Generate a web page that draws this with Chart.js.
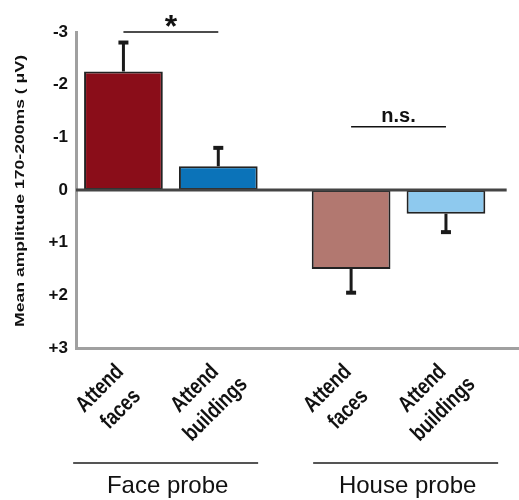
<!DOCTYPE html>
<html lang="en">
<head>
  <meta charset="UTF-8">
  <title>Mean amplitude</title>
  <script src="https://cdn.jsdelivr.net/npm/chart.js@4.4.1/dist/chart.umd.min.js"></script>
  <style>
    html, body { margin: 0; padding: 0; background: #fff; }
    #wrap { width: 519px; height: 500px; }
  </style>
</head>
<body>
  <div id="wrap"><canvas id="chart" width="519" height="500"></canvas></div>

  <script>
    // data
    const positions = [1, 2, 3.4, 4.4];
    const categories = [['Attend', 'faces'], ['Attend', 'buildings'], ['Attend', 'faces'], ['Attend', 'buildings']];
    const means = [-2.25, -0.45, 1.5, 0.45];
    const errors = [0.55, 0.35, 0.45, 0.35];
    const barColors = ['#8a0d19', '#0b73b9', '#b27870', '#8ec9ee'];
    const groups = ['Face probe', 'House probe'];
    const yTicks = [-3, -2, -1, 0, 1, 2, 3];
    const sigStar = { from: 0, to: 1, y: -3, label: '*' };
    const sigNs = { from: 2, to: 3, y: -1.2, label: 'n.s.' };
    const yTitle = 'Mean amplitude 170-200ms ( \u03bcV)';

    const FONT = '"Liberation Sans", Arial, sans-serif';

    const errorBars = {
      id: 'errorBars',
      afterDatasetsDraw(chart) {
        const { ctx, scales: { x, y } } = chart;
        ctx.save();
        ctx.strokeStyle = '#1a1a1a';
        means.forEach((m, i) => {
          const px = x.getPixelForValue(positions[i]);
          const sign = m < 0 ? -1 : 1;
          const y0 = y.getPixelForValue(m);
          const y1 = y.getPixelForValue(m + sign * errors[i]);
          ctx.lineWidth = 3;
          ctx.beginPath();
          ctx.moveTo(px, y0);
          ctx.lineTo(px, y1);
          ctx.stroke();
          ctx.lineWidth = 4;
          ctx.beginPath();
          ctx.moveTo(px - 5, y1);
          ctx.lineTo(px + 5, y1);
          ctx.stroke();
        });
        ctx.restore();
      }
    };

    const annotations = {
      id: 'annotations',
      afterDraw(chart) {
        const { ctx, scales: { x, y } } = chart;
        ctx.save();
        ctx.fillStyle = '#111';
        ctx.textAlign = 'center';
        ctx.textBaseline = 'alphabetic';

        // significance labels
        ctx.font = 'bold 32px ' + FONT;
        let sx = (x.getPixelForValue(positions[sigStar.from]) + x.getPixelForValue(positions[sigStar.to])) / 2;
        ctx.fillText(sigStar.label, sx, y.getPixelForValue(sigStar.y) + 5);
        ctx.font = 'bold 20px ' + FONT;
        sx = (x.getPixelForValue(positions[sigNs.from]) + x.getPixelForValue(positions[sigNs.to])) / 2;
        ctx.fillText(sigNs.label, sx, y.getPixelForValue(sigNs.y) - 5);

        // category labels, two centred lines rotated 45 degrees
        ctx.font = 'bold 18px ' + FONT;
        ctx.textBaseline = 'middle';
        categories.forEach((lines, i) => {
          const px = x.getPixelForValue(positions[i]);
          ctx.save();
          ctx.translate(px - 13, x.top + 51);
          ctx.rotate(-Math.PI / 4);
          ctx.scale(1, 1.25);
          lines.forEach((t, j) => {
            ctx.fillText(t, 0, (j - (lines.length - 1) / 2) * 23.5);
          });
          ctx.restore();
        });

        // group brackets under the category labels
        const spans = [[0.47, 2.42], [3.0, 4.95]];
        ctx.strokeStyle = '#555';
        ctx.lineWidth = 2;
        ctx.font = '24px ' + FONT;
        ctx.textBaseline = 'alphabetic';
        groups.forEach((g, gi) => {
          const a = x.getPixelForValue(spans[gi][0]);
          const b = x.getPixelForValue(spans[gi][1]);
          ctx.beginPath();
          ctx.moveTo(a, 463);
          ctx.lineTo(b, 463);
          ctx.stroke();
          ctx.fillText(g, (a + b) / 2 + 2, 493);
        });

        // y axis title, stretched along its length like the original
        ctx.font = 'bold 12.5px ' + FONT;
        ctx.textBaseline = 'middle';
        const w = ctx.measureText(yTitle).width;
        ctx.translate(21, (y.top + y.bottom) / 2 + 1);
        ctx.rotate(-Math.PI / 2);
        ctx.scale(272 / w, 1);
        ctx.fillText(yTitle, 0, 0);
        ctx.restore();
      }
    };

    const lineStyle = {
      type: 'line',
      pointRadius: 0,
      borderColor: '#111',
      borderWidth: 1.5,
      clip: false,
      order: 0
    };

    const config = {
      type: 'bar',
      data: {
        datasets: [{
          label: 'Mean amplitude',
          data: positions.map((p, i) => ({ x: p, y: means[i] })),
          backgroundColor: barColors,
          borderColor: '#222',
          borderWidth: 2,
          borderSkipped: false,
          categoryPercentage: 1,
          barPercentage: 0.83,
          order: 2
        }, {
          ...lineStyle,
          label: 'zero',
          data: [{ x: 0.5, y: 0 }, { x: 5.04, y: 0 }],
          borderColor: '#444',
          borderWidth: 3
        }, {
          ...lineStyle,
          label: 'sig',
          data: [{ x: positions[sigStar.from], y: sigStar.y }, { x: positions[sigStar.to], y: sigStar.y }]
        }, {
          ...lineStyle,
          label: 'ns',
          data: [{ x: positions[sigNs.from], y: sigNs.y }, { x: positions[sigNs.to], y: sigNs.y }]
        }]
      },
      options: {
        responsive: false,
        animation: false,
        layout: { padding: { top: 32, right: 0, left: 0, bottom: 0 } },
        plugins: {
          legend: { display: false },
          tooltip: { enabled: false }
        },
        scales: {
          x: {
            type: 'linear',
            min: 0.5,
            max: 5.17,
            offset: false,
            grid: { display: false, drawTicks: false },
            border: { display: true, color: '#a0a0a0', width: 3 },
            afterBuildTicks: (scale) => {
              scale.ticks = positions.map(v => ({ value: v }));
            },
            afterFit: (scale) => { scale.height = 152; },
            ticks: { display: false }
          },
          y: {
            reverse: true,
            min: -3,
            max: 3,
            grid: { display: false, drawTicks: false },
            border: { display: true, color: '#a0a0a0', width: 3 },
            afterBuildTicks: (scale) => {
              scale.ticks = yTicks.map(v => ({ value: v }));
            },
            afterFit: (scale) => { scale.width = 76; },
            ticks: {
              padding: 8,
              color: '#111',
              font: { family: FONT, size: 17, weight: 'bold' },
              callback: (v) => (v > 0 ? '+' + v : String(v))
            }
          }
        }
      },
      plugins: [errorBars, annotations]
    };

    new Chart(document.getElementById('chart'), config);
  </script>
</body>
</html>
